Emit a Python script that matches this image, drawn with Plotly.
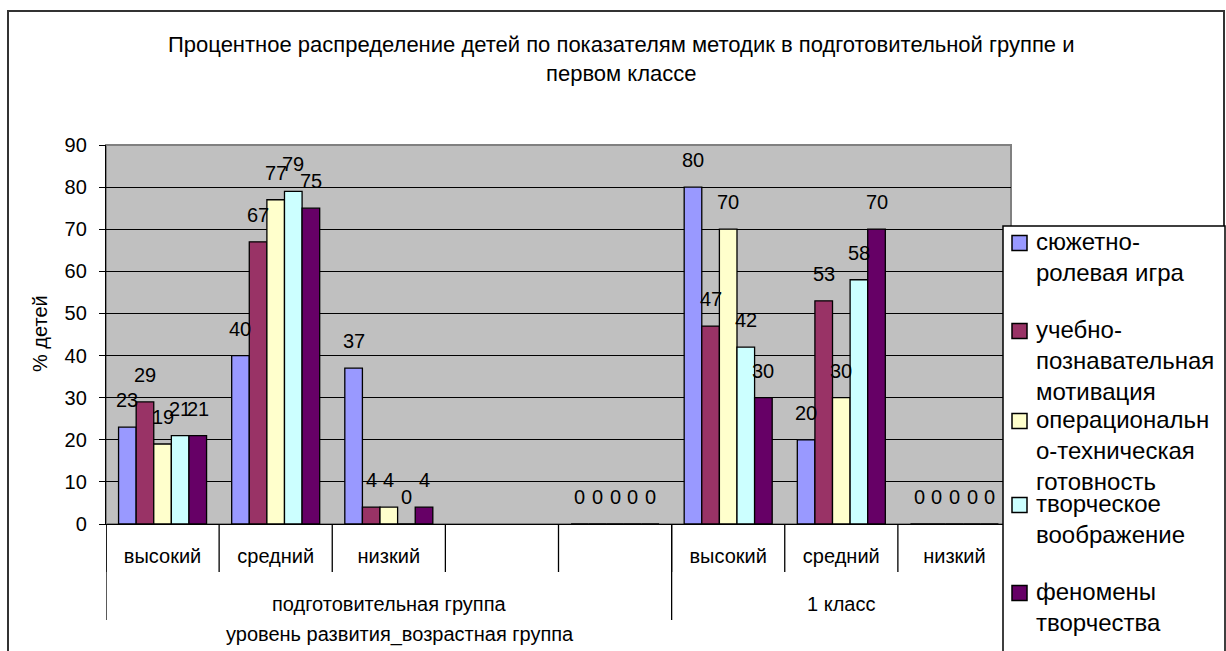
import plotly.graph_objects as go

# ---------------- data ----------------
categories = ["высокий", "средний", "низкий", "", "", "высокий", "средний", "низкий"]
groups = ["подготовительная группа", "1 класс"]
group_sizes = [5, 3]

series_names = [
    "сюжетно-ролевая игра",
    "учебно-познавательная мотивация",
    "операционально-техническая готовность",
    "творческое воображение",
    "феномены творчества",
]
legend_labels = [
    "сюжетно-<br>ролевая игра",
    "учебно-<br>познавательная<br>мотивация",
    "операциональн<br>о-техническая<br>готовность",
    "творческое<br>воображение",
    "феномены<br>творчества",
]
s_role_play = [23, 40, 37, None, 0, 80, 20, 0]
s_motivation = [29, 67, 4, None, 0, 47, 53, 0]
s_operational = [19, 77, 4, None, 0, 70, 30, 0]
s_imagination = [21, 79, 0, None, 0, 42, 58, 0]
s_phenomena = [21, 75, 4, None, 0, 30, 70, 0]
series_values = [s_role_play, s_motivation, s_operational, s_imagination, s_phenomena]

colors = ["#9999FF", "#993366", "#FFFFCC", "#CCFFFF", "#660066"]

title_text = ("Процентное распределение детей по показателям методик в подготовительной группе и"
              "<br>первом классе")
y_title = "% детей"
x_title = "уровень развития_возрастная группа"

# ---------------- layout constants ----------------
W, H = 1226, 651
ML, MR, MT, MB = 106, 215, 145, 127
PW, PH = W - ML - MR, H - MT - MB
FONT = "Liberation Sans, Arial, sans-serif"
BARGAP = 0.222
n_series = len(series_values)
bw = (1 - BARGAP) / n_series
LEGEND_FIRST_LINE = [243, 331, 421, 505, 593]
LEGEND_FONT = 24


def px_x(px):
    return (px - ML) / PW


def px_y(py):
    return (H - MB - py) / PH


x_idx = list(range(len(categories)))

fig = go.Figure()
for name, vals, col in zip(series_names, series_values, colors):
    fig.add_trace(go.Bar(
        x=x_idx, y=vals, name=name, showlegend=False,
        marker=dict(color=col, line=dict(color="black", width=1.3)),
    ))

annotations = []
shapes = []

# data labels
for k, vals in enumerate(series_values):
    for i, v in enumerate(vals):
        if v is None:
            continue
        annotations.append(dict(
            x=i + (k - (n_series - 1) / 2) * bw, y=v, xref="x", yref="y",
            text=str(v), showarrow=False, yanchor="middle", yshift=27,
            font=dict(family=FONT, size=20, color="black"),
        ))

# group labels and dividers
start = 0
boundaries = [-0.5]
for g, size in zip(groups, group_sizes):
    center = start + (size - 1) / 2
    annotations.append(dict(
        x=center, y=px_y(604), xref="x", yref="paper", text=g, showarrow=False,
        yanchor="middle", font=dict(family=FONT, size=20, color="black"),
    ))
    start += size
    boundaries.append(start - 0.5)

for b in boundaries:
    shapes.append(dict(type="line", xref="x", yref="paper", x0=b, x1=b,
                       y0=0, y1=px_y(620), line=dict(color="black", width=1.3)))
# inner separators
for i in range(len(categories) + 1):
    shapes.append(dict(type="line", xref="x", yref="paper", x0=i - 0.5, x1=i - 0.5,
                       y0=0, y1=px_y(572), line=dict(color="black", width=1.3)))

# plot area border (gray)
shapes.append(dict(type="rect", xref="paper", yref="paper", x0=0, x1=1, y0=0, y1=1,
                   line=dict(color="#808080", width=2), layer="below"))
# outer chart border
shapes.append(dict(type="rect", xref="paper", yref="paper",
                   x0=px_x(8), x1=px_x(1224), y0=px_y(700), y1=px_y(11),
                   line=dict(color="#333333", width=2), layer="below"))

# legend (box, swatches, labels)
shapes.append(dict(type="rect", xref="paper", yref="paper",
                   x0=px_x(1003), x1=px_x(1225), y0=px_y(700), y1=px_y(226),
                   fillcolor="white", line=dict(color="black", width=1.5), layer="above"))
for lab, col, yc in zip(legend_labels, colors, LEGEND_FIRST_LINE):
    shapes.append(dict(type="rect", xref="paper", yref="paper",
                       x0=px_x(1012), x1=px_x(1027), y0=px_y(yc + 7.5), y1=px_y(yc - 7.5),
                       fillcolor=col, line=dict(color="black", width=1.5), layer="above"))
    annotations.append(dict(
        x=px_x(1034), y=px_y(yc - 17), xref="paper", yref="paper", text=lab,
        showarrow=False, xanchor="left", yanchor="top", align="left",
        font=dict(family=FONT, size=LEGEND_FONT, color="black"),
    ))

# titles
annotations.append(dict(
    x=px_x(621), y=px_y(59), xref="paper", yref="paper", text=title_text, showarrow=False,
    xanchor="center", yanchor="middle", font=dict(family=FONT, size=22, color="black"),
))
annotations.append(dict(
    x=px_x(40), y=px_y(334), xref="paper", yref="paper", text=y_title, showarrow=False,
    textangle=-90, xanchor="center", yanchor="middle",
    font=dict(family=FONT, size=20, color="black"),
))
annotations.append(dict(
    x=px_x(400), y=px_y(634), xref="paper", yref="paper", text=x_title, showarrow=False,
    xanchor="center", yanchor="middle", font=dict(family=FONT, size=20, color="black"),
))

fig.update_layout(
    width=W, height=H,
    margin=dict(l=ML, r=MR, t=MT, b=MB, pad=0),
    paper_bgcolor="white", plot_bgcolor="#C0C0C0",
    barmode="group", bargap=BARGAP, bargroupgap=0,
    font=dict(family=FONT, size=20, color="black"),
    showlegend=False,
    annotations=annotations, shapes=shapes,
)
fig.update_xaxes(
    range=[-0.5, len(categories) - 0.5],
    tickmode="array", tickvals=x_idx, ticktext=categories,
    ticks="", showgrid=False, zeroline=False,
    showline=True, linecolor="black", linewidth=1.3,
    ticklabelstandoff=14,
    tickfont=dict(family=FONT, size=20, color="black"),
)
fig.update_yaxes(
    range=[0, 90], dtick=10, tick0=0,
    showgrid=True, gridcolor="black", gridwidth=1,
    zeroline=False, showline=True, linecolor="black", linewidth=1.3,
    ticks="outside", ticklen=6, tickcolor="black",
    ticklabelstandoff=8,
    tickfont=dict(family=FONT, size=20, color="black"),
)

fig.write_html(
    "out.html",
    config={"displayModeBar": False},
    post_script="document.body.style.margin='0';document.body.style.overflow='hidden';",
)
